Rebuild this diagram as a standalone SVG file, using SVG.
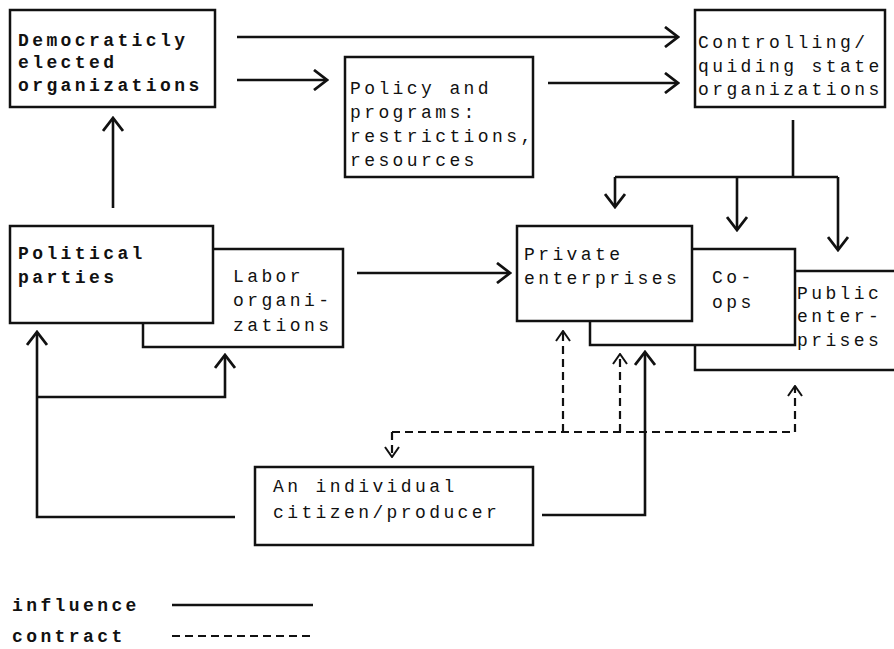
<svg xmlns="http://www.w3.org/2000/svg" width="894" height="649" viewBox="0 0 894 649">
<style>
.box{fill:#fff;stroke:#111;stroke-width:2.5}
.t{font-family:"Liberation Mono","DejaVu Sans Mono",monospace;font-size:18px;letter-spacing:3.4px;fill:#111}
.b{font-weight:bold}
.s{fill:none;stroke:#111;stroke-width:2.6}
.d{fill:none;stroke:#111;stroke-width:2.2;stroke-dasharray:8,5}
</style>
<defs>
<marker id="ah" viewBox="0 0 16 22" refX="14" refY="11" markerWidth="16" markerHeight="22" markerUnits="userSpaceOnUse" orient="auto">
<path d="M1,1 L14,11 L1,21" fill="none" stroke="#111" stroke-width="2.8"/>
</marker>
<marker id="ahs" viewBox="0 0 12 16" refX="11" refY="8" markerWidth="12" markerHeight="16" markerUnits="userSpaceOnUse" orient="auto">
<path d="M1,1 L11,8 L1,15" fill="none" stroke="#111" stroke-width="2"/>
</marker>
</defs>
<rect width="894" height="649" fill="#fff"/>

<g id="democratic">
<rect class="box" x="10" y="10" width="205" height="97"/>
<text class="t b" x="18" y="46">Democraticly</text>
<text class="t b" x="18" y="68">elected</text>
<text class="t b" x="18" y="91">organizations</text>
</g>
<g id="policy">
<rect class="box" x="345" y="57" width="188" height="120"/>
<text class="t" x="350" y="94">Policy and</text>
<text class="t" x="350" y="118">programs:</text>
<text class="t" x="350" y="142">restrictions,</text>
<text class="t" x="350" y="166">resources</text>
</g>
<g id="controlling">
<rect class="box" x="695" y="10" width="190" height="97"/>
<text class="t" x="698" y="48">Controlling/</text>
<text class="t" x="698" y="72">quiding state</text>
<text class="t" x="698" y="95">organizations</text>
</g>
<g id="labor">
<rect class="box" x="143" y="249" width="200" height="98"/>
<text class="t" x="233" y="282">Labor</text>
<text class="t" x="233" y="306">organi-</text>
<text class="t" x="233" y="331">zations</text>
</g>
<g id="political">
<rect class="box" x="10" y="226" width="203" height="97"/>
<text class="t b" x="18" y="259">Political</text>
<text class="t b" x="18" y="283">parties</text>
</g>
<g id="public">
<rect class="box" x="695" y="271" width="205" height="99"/>
<text class="t" x="797" y="299">Public</text>
<text class="t" x="797" y="322">enter-</text>
<text class="t" x="797" y="346">prises</text>
</g>
<g id="coops">
<rect class="box" x="590" y="249" width="205" height="96"/>
<text class="t" x="712" y="283">Co-</text>
<text class="t" x="712" y="308">ops</text>
</g>
<g id="private">
<rect class="box" x="517" y="226" width="175" height="95"/>
<text class="t" x="524" y="260">Private</text>
<text class="t" x="524" y="284">enterprises</text>
</g>
<g id="individual">
<rect class="box" x="255" y="467" width="278" height="78"/>
<text class="t" x="273" y="492">An individual</text>
<text class="t" x="273" y="518">citizen/producer</text>
</g>

<g id="connectors">
<path class="s" d="M237,37 H678" marker-end="url(#ah)"/>
<path class="s" d="M237,80 H327" marker-end="url(#ah)"/>
<path class="s" d="M548,83 H678" marker-end="url(#ah)"/>
<path class="s" d="M793,120 V177 M615,177 H838"/>
<path class="s" d="M615,177 V207" marker-end="url(#ah)"/>
<path class="s" d="M737,177 V230" marker-end="url(#ah)"/>
<path class="s" d="M838,177 V250" marker-end="url(#ah)"/>
<path class="s" d="M113,208 V118" marker-end="url(#ah)"/>
<path class="s" d="M357,273 H510" marker-end="url(#ah)"/>
<path class="s" d="M235,517 H37 V332" marker-end="url(#ah)"/>
<path class="s" d="M37,397 H225 V355" marker-end="url(#ah)"/>
<path class="s" d="M542,515 H645 V352" marker-end="url(#ah)"/>
<path class="d" d="M392,432 H795"/>
<path class="d" d="M392,432 V457" marker-end="url(#ahs)"/>
<path class="d" d="M563,432 V331" marker-end="url(#ahs)"/>
<path class="d" d="M620,432 V354" marker-end="url(#ahs)"/>
<path class="d" d="M795,432 V386" marker-end="url(#ahs)"/>
</g>

<g id="legend">
<text class="t b" x="12" y="611">influence</text>
<path class="s" d="M172,605 H313"/>
<text class="t b" x="12" y="642">contract</text>
<path class="d" d="M172,636 H313"/>
</g>
</svg>
